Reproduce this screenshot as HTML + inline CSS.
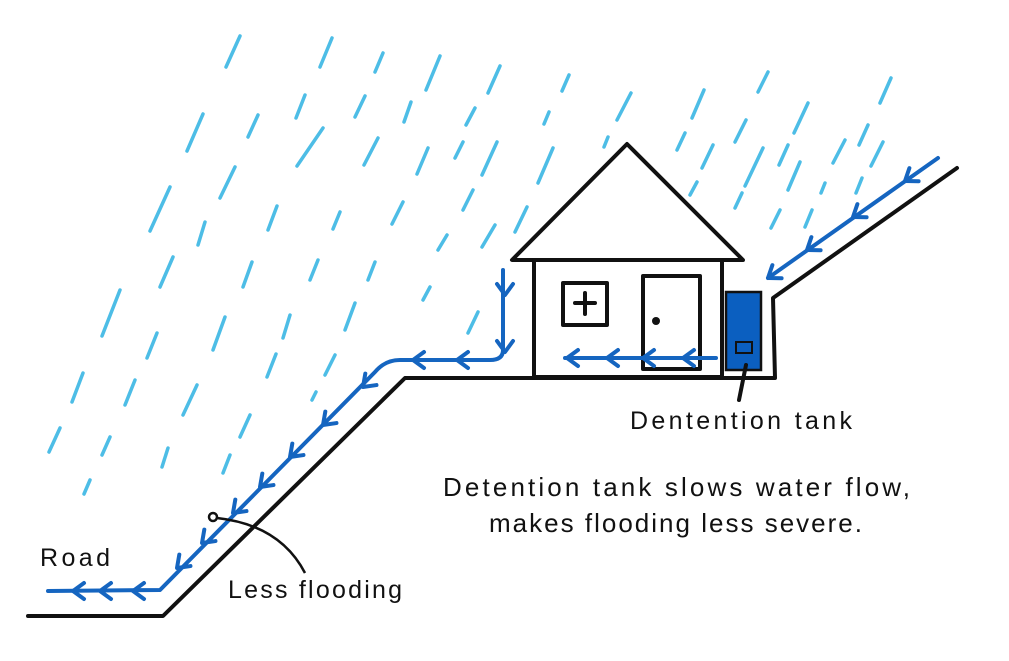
<!DOCTYPE html>
<html><head><meta charset="utf-8"><style>
html,body{margin:0;padding:0;background:#fff;width:1009px;height:661px;overflow:hidden}
svg{display:block}
text{font-family:"Liberation Sans",sans-serif;fill:#111}
</style></head><body>
<svg width="1009" height="661" viewBox="0 0 1009 661" xmlns="http://www.w3.org/2000/svg">
<g stroke="#4dbde6" stroke-width="3.5" stroke-linecap="round">
<line x1="240" y1="36" x2="226" y2="67"/>
<line x1="332" y1="38" x2="320" y2="67"/>
<line x1="383" y1="53" x2="375" y2="72"/>
<line x1="440" y1="56" x2="426" y2="90"/>
<line x1="500" y1="66" x2="488" y2="93"/>
<line x1="305" y1="95" x2="296" y2="118"/>
<line x1="365" y1="96" x2="355" y2="117"/>
<line x1="411" y1="102" x2="404" y2="122"/>
<line x1="475" y1="108" x2="466" y2="125"/>
<line x1="203" y1="114" x2="187" y2="151"/>
<line x1="258" y1="115" x2="248" y2="137"/>
<line x1="323" y1="128" x2="297" y2="166"/>
<line x1="378" y1="138" x2="364" y2="165"/>
<line x1="428" y1="148" x2="417" y2="174"/>
<line x1="463" y1="142" x2="455" y2="158"/>
<line x1="497" y1="142" x2="482" y2="175"/>
<line x1="235" y1="167" x2="220" y2="198"/>
<line x1="170" y1="187" x2="150" y2="231"/>
<line x1="205" y1="222" x2="198" y2="245"/>
<line x1="277" y1="206" x2="268" y2="230"/>
<line x1="340" y1="212" x2="333" y2="229"/>
<line x1="403" y1="202" x2="392" y2="224"/>
<line x1="473" y1="190" x2="463" y2="210"/>
<line x1="495" y1="225" x2="482" y2="247"/>
<line x1="173" y1="257" x2="160" y2="287"/>
<line x1="252" y1="262" x2="243" y2="287"/>
<line x1="318" y1="260" x2="310" y2="280"/>
<line x1="375" y1="262" x2="368" y2="280"/>
<line x1="447" y1="235" x2="438" y2="250"/>
<line x1="120" y1="290" x2="102" y2="336"/>
<line x1="157" y1="333" x2="147" y2="358"/>
<line x1="225" y1="317" x2="213" y2="350"/>
<line x1="290" y1="315" x2="283" y2="338"/>
<line x1="355" y1="303" x2="345" y2="330"/>
<line x1="430" y1="287" x2="423" y2="300"/>
<line x1="478" y1="312" x2="468" y2="333"/>
<line x1="83" y1="373" x2="72" y2="402"/>
<line x1="135" y1="380" x2="125" y2="405"/>
<line x1="197" y1="385" x2="183" y2="415"/>
<line x1="276" y1="354" x2="267" y2="377"/>
<line x1="335" y1="355" x2="325" y2="375"/>
<line x1="316" y1="392" x2="312" y2="400"/>
<line x1="60" y1="428" x2="49" y2="452"/>
<line x1="110" y1="437" x2="102" y2="455"/>
<line x1="168" y1="448" x2="162" y2="467"/>
<line x1="250" y1="415" x2="240" y2="437"/>
<line x1="230" y1="455" x2="223" y2="473"/>
<line x1="90" y1="480" x2="84" y2="494"/>
<line x1="569" y1="75" x2="562" y2="91"/>
<line x1="631" y1="93" x2="617" y2="120"/>
<line x1="704" y1="90" x2="692" y2="118"/>
<line x1="768" y1="72" x2="758" y2="92"/>
<line x1="808" y1="103" x2="794" y2="133"/>
<line x1="891" y1="78" x2="880" y2="103"/>
<line x1="553" y1="148" x2="538" y2="183"/>
<line x1="549" y1="112" x2="544" y2="124"/>
<line x1="608" y1="137" x2="604" y2="147"/>
<line x1="685" y1="133" x2="677" y2="150"/>
<line x1="713" y1="145" x2="702" y2="168"/>
<line x1="746" y1="120" x2="735" y2="142"/>
<line x1="763" y1="148" x2="745" y2="186"/>
<line x1="788" y1="145" x2="779" y2="165"/>
<line x1="800" y1="162" x2="788" y2="190"/>
<line x1="845" y1="140" x2="833" y2="163"/>
<line x1="868" y1="125" x2="859" y2="145"/>
<line x1="883" y1="142" x2="871" y2="166"/>
<line x1="825" y1="183" x2="821" y2="193"/>
<line x1="862" y1="178" x2="856" y2="193"/>
<line x1="697" y1="182" x2="690" y2="195"/>
<line x1="742" y1="193" x2="735" y2="208"/>
<line x1="780" y1="210" x2="771" y2="228"/>
<line x1="812" y1="210" x2="805" y2="227"/>
<line x1="527" y1="207" x2="515" y2="232"/>
</g>
<!-- house -->
<g stroke="#111" stroke-width="4" fill="#fff" stroke-linejoin="round" stroke-linecap="round">
<polygon points="627,144 512,260 743,260"/>
<rect x="534" y="260" width="188" height="117"/>
<rect x="563" y="283" width="44" height="42"/>
<rect x="643" y="276" width="57" height="93"/>
<line x1="575" y1="303" x2="595" y2="303"/>
<line x1="585" y1="293" x2="585" y2="314"/>
<polyline fill="none" points="28,616 163,616 405,378 775,378 773,298 957,168"/>
</g>
<circle cx="656" cy="321" r="4" fill="#111"/>
<!-- tank -->
<rect x="726" y="292" width="35" height="78" fill="#0b5fc0" stroke="#111" stroke-width="2.5"/>
<rect x="736" y="342" width="16" height="11" fill="none" stroke="#111" stroke-width="2"/>
<path d="M746,365 L739,400" stroke="#111" stroke-width="4" fill="none" stroke-linecap="round"/>
<!-- flows -->
<g stroke="#1565c0" stroke-width="4" fill="none" stroke-linecap="round" stroke-linejoin="round">
<path d="M503,270 L503,350 Q503,360 490,360 L400,360 Q385,360 375,372 L160,590 L48,591"/>
<path d="M565,358 L716,358"/>
<path d="M938,158 L768,278"/>
</g>
<g stroke="#1565c0" stroke-width="4" fill="none" stroke-linecap="round" stroke-linejoin="round">
<g transform="translate(505,295) rotate(90)"><path d="M-11,-8 L0,0 L-11,8"/></g>
<g transform="translate(505,352) rotate(90)"><path d="M-11,-8 L0,0 L-11,8"/></g>
<g transform="translate(413,360) rotate(180)"><path d="M-11,-8 L0,0 L-11,8"/></g>
<g transform="translate(457,360) rotate(180)"><path d="M-11,-8 L0,0 L-11,8"/></g>
<g transform="translate(363,387) rotate(135.8)"><path d="M-11,-8 L0,0 L-11,8"/></g>
<g transform="translate(323,425) rotate(135.8)"><path d="M-11,-8 L0,0 L-11,8"/></g>
<g transform="translate(290,457) rotate(135.8)"><path d="M-11,-8 L0,0 L-11,8"/></g>
<g transform="translate(260,487) rotate(135.8)"><path d="M-11,-8 L0,0 L-11,8"/></g>
<g transform="translate(233,513) rotate(135.8)"><path d="M-11,-8 L0,0 L-11,8"/></g>
<g transform="translate(202,543) rotate(135.8)"><path d="M-11,-8 L0,0 L-11,8"/></g>
<g transform="translate(177,568) rotate(135.8)"><path d="M-11,-8 L0,0 L-11,8"/></g>
<g transform="translate(133,591) rotate(180)"><path d="M-11,-8 L0,0 L-11,8"/></g>
<g transform="translate(100,591) rotate(180)"><path d="M-11,-8 L0,0 L-11,8"/></g>
<g transform="translate(73,591) rotate(180)"><path d="M-11,-8 L0,0 L-11,8"/></g>
<g transform="translate(567,358) rotate(180)"><path d="M-11,-8 L0,0 L-11,8"/></g>
<g transform="translate(607,358) rotate(180)"><path d="M-11,-8 L0,0 L-11,8"/></g>
<g transform="translate(643,358) rotate(180)"><path d="M-11,-8 L0,0 L-11,8"/></g>
<g transform="translate(683,358) rotate(180)"><path d="M-11,-8 L0,0 L-11,8"/></g>
<g transform="translate(905,181) rotate(144.8)"><path d="M-11,-8 L0,0 L-11,8"/></g>
<g transform="translate(853,217) rotate(144.8)"><path d="M-11,-8 L0,0 L-11,8"/></g>
<g transform="translate(807,250) rotate(144.8)"><path d="M-11,-8 L0,0 L-11,8"/></g>
<g transform="translate(768,278) rotate(144.8)"><path d="M-11,-8 L0,0 L-11,8"/></g>
</g>
<!-- less flooding pointer -->
<circle cx="213" cy="517" r="4" fill="none" stroke="#111" stroke-width="2.5"/>
<path d="M217,518 Q280,525 305,573" stroke="#111" stroke-width="2.5" fill="none"/>
<text x="40" y="566" font-size="25" textLength="70">Road</text>
<text x="228" y="598" font-size="25" textLength="174">Less flooding</text>
<text x="630" y="429" font-size="25" textLength="222">Dentention tank</text>
<text x="443" y="496" font-size="26" textLength="467">Detention tank slows water flow,</text>
<text x="489" y="532" font-size="26" textLength="373">makes flooding less severe.</text>
</svg>
</body></html>
